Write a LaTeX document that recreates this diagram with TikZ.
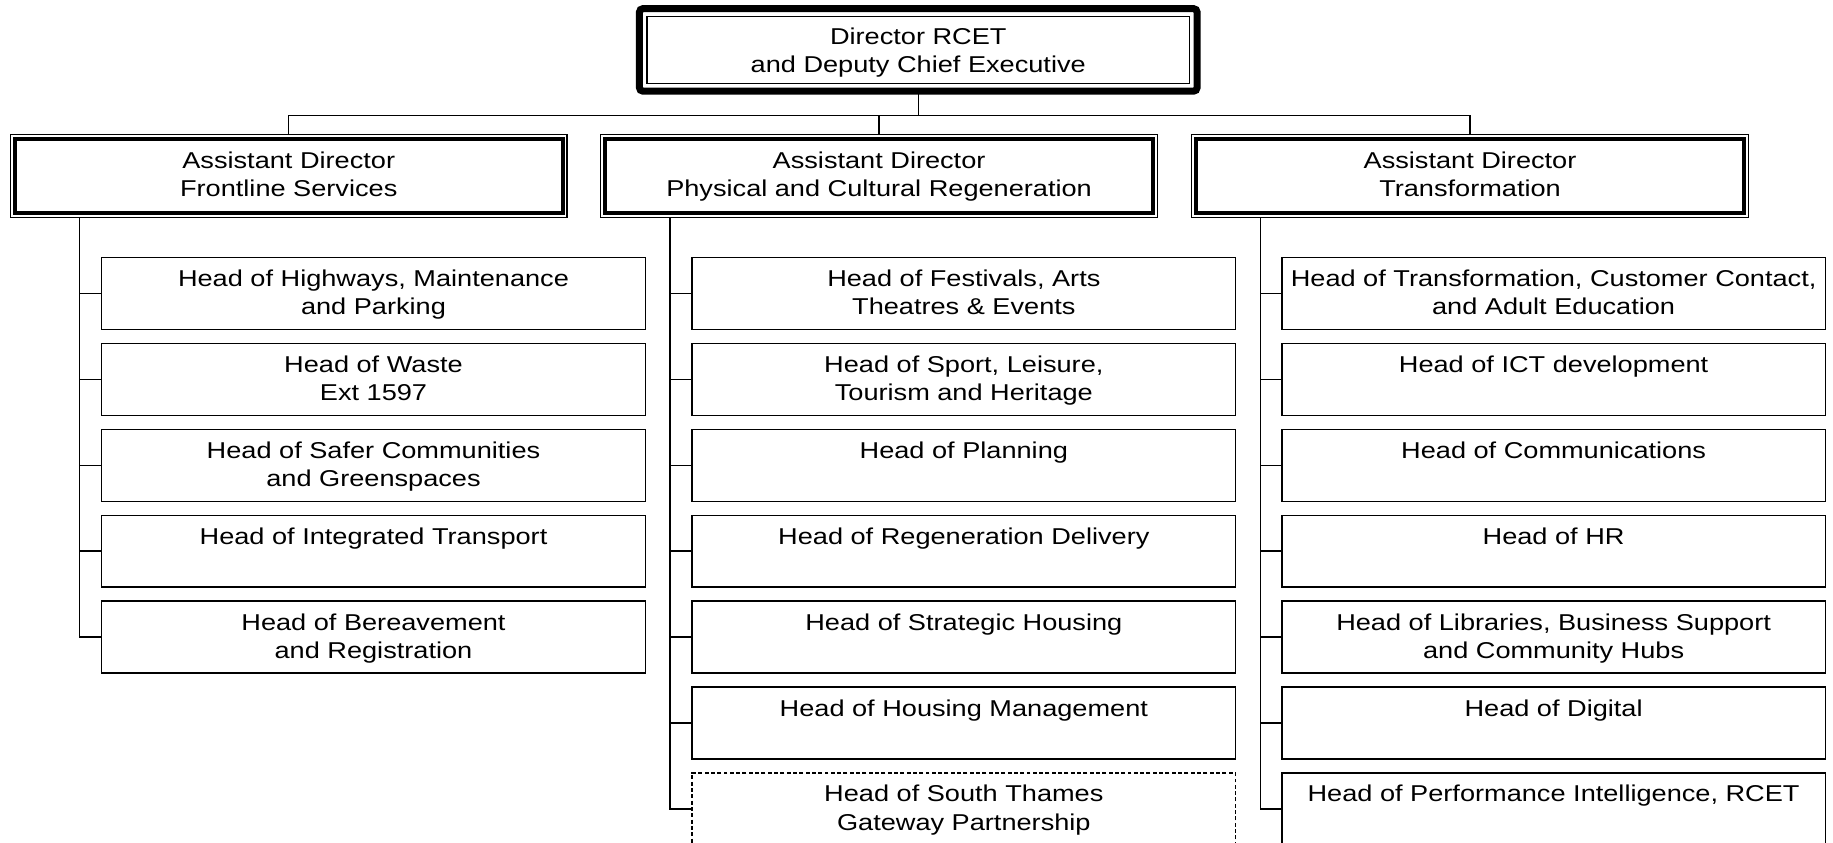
\documentclass[tikz,border=0pt]{standalone}
\usepackage{fontspec}
\setmainfont{Liberation Sans}[FakeStretch=1.185]
\newcommand\myfont{\fontsize{9.8}{12.1}\selectfont}
\newcommand\hbtext[1]{\parbox[t][30.75pt][t]{232.5pt}{\centering\vspace*{3.9pt}\strut #1}}
\newcommand\adtext[1]{\parbox[t][35.5pt][t]{236pt}{\centering\vspace*{6.0pt}\strut #1}}
\newcommand\dirtext[1]{\parbox[t][35.3pt][t]{236pt}{\centering\vspace*{6.8pt}\strut #1}}
\tikzset{
  topbox/.style={draw, line width=3pt, rounded corners=1.5pt, outer sep=0pt, inner sep=0pt,
    minimum width=238.5pt, minimum height=35.3pt},
  adbox/.style={draw, line width=0.5pt, outer sep=0pt, inner sep=0pt,
    minimum width=238pt, minimum height=35.5pt},
  headbox/.style={draw, line width=0.6pt, outer sep=0pt, inner sep=0pt},
  dashbox/.style={headbox, dash pattern=on 1.7pt off 1pt},
  conn/.style={line width=0.6pt},
  innerthin/.style={line width=0.6pt},
  innerthick/.style={line width=1.7pt},
}
\begin{document}
\begin{tikzpicture}[x=0.5pt, y=-0.5pt, font=\myfont]
\useasboundingbox (0,0) rectangle (1568,721);
\clip (0,0) rectangle (1568,721);

% director
\node[topbox] (dir) at (785.5,42.7) {\dirtext{Director RCET\\and Deputy Chief Executive}};
\draw[innerthin] ([shift={(6.5,6.5)}]dir.north west) rectangle ([shift={(-6.5,-6.5)}]dir.south east);

% assistant directors
\node[adbox] (fs) at (247,150.5) {\adtext{Assistant Director\\Frontline Services}};
\node[adbox] (pc) at (752,150.5) {\adtext{Assistant Director\\Physical and Cultural Regeneration}};
\node[adbox] (tr) at (1257.5,150.5) {\adtext{Assistant Director\\Transformation}};
\foreach \n in {fs,pc,tr}{
  \draw[innerthick] ([shift={(3.8,3.8)}]\n.north west) rectangle ([shift={(-3.8,-3.8)}]\n.south east);
}

% heads: left
\node[headbox] (h1) at (319.5,251)   {\hbtext{Head of Highways, Maintenance\\and Parking}};
\node[headbox] (h2) at (319.5,324.5) {\hbtext{Head of Waste\\Ext 1597}};
\node[headbox] (h3) at (319.5,398)   {\hbtext{Head of Safer Communities\\and Greenspaces}};
\node[headbox] (h4) at (319.5,471.5) {\hbtext{Head of Integrated Transport}};
\node[headbox] (h5) at (319.5,545)   {\hbtext{Head of Bereavement\\and Registration}};

% heads: middle
\node[headbox] (p1) at (824.5,251)   {\hbtext{Head of Festivals, Arts\\Theatres \& Events}};
\node[headbox] (p2) at (824.5,324.5) {\hbtext{Head of Sport, Leisure,\\Tourism and Heritage}};
\node[headbox] (p3) at (824.5,398)   {\hbtext{Head of Planning}};
\node[headbox] (p4) at (824.5,471.5) {\hbtext{Head of Regeneration Delivery}};
\node[headbox] (p5) at (824.5,545)   {\hbtext{Head of Strategic Housing}};
\node[headbox] (p6) at (824.5,618.5) {\hbtext{Head of Housing Management}};
\node[dashbox] (p7) at (824.5,692)   {\hbtext{Head of South Thames\\Gateway Partnership}};

% heads: right
\node[headbox] (t1) at (1329,251)   {\hbtext{Head of Transformation, Customer Contact,\\and Adult Education}};
\node[headbox] (t2) at (1329,324.5) {\hbtext{Head of ICT development}};
\node[headbox] (t3) at (1329,398)   {\hbtext{Head of Communications}};
\node[headbox] (t4) at (1329,471.5) {\hbtext{Head of HR}};
\node[headbox] (t5) at (1329,545)   {\hbtext{Head of Libraries, Business Support\\and Community Hubs}};
\node[headbox] (t6) at (1329,618.5) {\hbtext{Head of Digital}};
\node[headbox] (t7) at (1329,692)   {\hbtext{Head of Performance Intelligence, RCET}};

% top connectors
\draw[conn] (dir.south) -- ++(0,21) coordinate (bus);
\draw[conn] (bus) -| (fs.north);
\draw[conn] (bus) -| (pc.north);
\draw[conn] (bus) -| (tr.north);

% trunks
\foreach \c in {h1,h2,h3,h4,h5}{
  \draw[conn] ([shift={(59,0)}]fs.south west) |- (\c.west);
}
\foreach \c in {p1,p2,p3,p4,p5,p6,p7}{
  \draw[conn] ([shift={(59,0)}]pc.south west) |- (\c.west);
}
\foreach \c in {t1,t2,t3,t4,t5,t6,t7}{
  \draw[conn] ([shift={(59,0)}]tr.south west) |- (\c.west);
}
\end{tikzpicture}
\end{document}
